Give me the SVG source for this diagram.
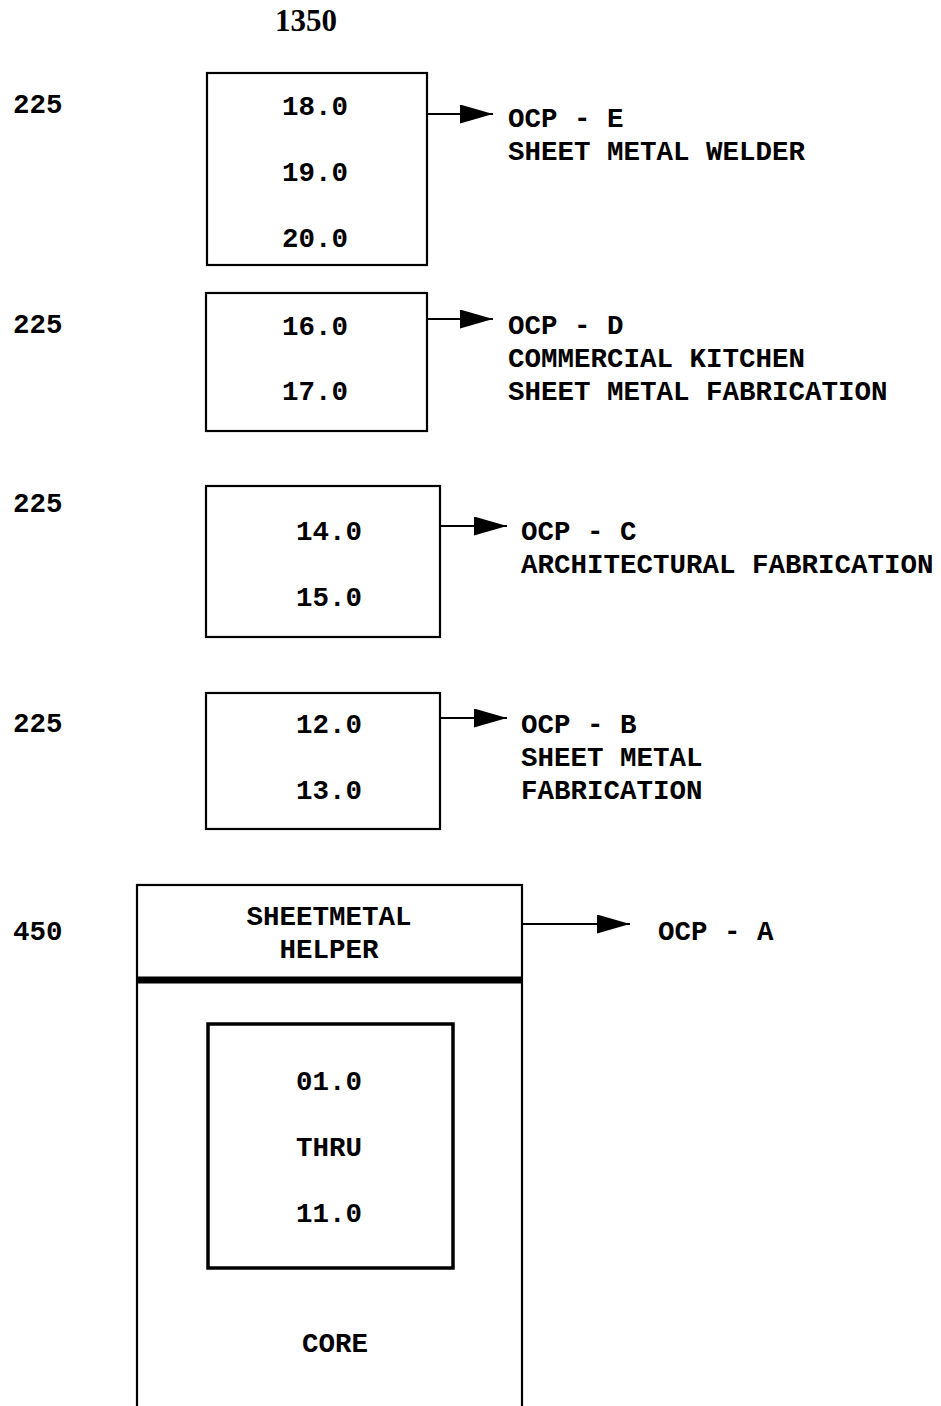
<svg xmlns="http://www.w3.org/2000/svg" width="941" height="1406" viewBox="0 0 941 1406">
<style>
.t{font-family:"Liberation Mono","Courier New",monospace;font-weight:bold;font-size:27.5px;fill:#000}
.c{text-anchor:middle}
.box{fill:none;stroke:#000;stroke-width:2.2}
.ln{stroke:#000;stroke-width:2.2;fill:none}
.ttl{font-family:"Liberation Serif","Times New Roman",serif;font-weight:bold;font-size:31px;fill:#000}
</style>
<defs>
<marker id="ah" markerUnits="userSpaceOnUse" markerWidth="34" markerHeight="20" refX="33" refY="9.5" orient="auto">
<path d="M0,0 L33,9.5 L0,19 Z" fill="#000"/>
</marker>
</defs>
<rect width="941" height="1406" fill="#fff"/>
<text class="ttl" x="306" y="31" text-anchor="middle">1350</text>
<g id="labels">
<text class="t" x="13" y="113">225</text>
<text class="t" x="13" y="333">225</text>
<text class="t" x="13" y="512">225</text>
<text class="t" x="13" y="732">225</text>
<text class="t" x="13" y="940">450</text>
</g>
<g id="nodeE">
<rect class="box" x="207" y="73" width="220" height="192"/>
<text class="t c" x="315" y="115">18.0</text>
<text class="t c" x="315" y="181">19.0</text>
<text class="t c" x="315" y="247">20.0</text>
</g>
<g id="labelE">
<text class="t" x="508" y="127">OCP - E</text>
<text class="t" x="508" y="160">SHEET METAL WELDER</text>
</g>
<g id="nodeD">
<rect class="box" x="206" y="293" width="221" height="138"/>
<text class="t c" x="315" y="335">16.0</text>
<text class="t c" x="315" y="400">17.0</text>
</g>
<g id="labelD">
<text class="t" x="508" y="334">OCP - D</text>
<text class="t" x="508" y="367">COMMERCIAL KITCHEN</text>
<text class="t" x="508" y="400">SHEET METAL FABRICATION</text>
</g>
<g id="nodeC">
<rect class="box" x="206" y="486" width="234" height="151"/>
<text class="t c" x="329" y="540">14.0</text>
<text class="t c" x="329" y="606">15.0</text>
</g>
<g id="labelC">
<text class="t" x="521" y="540">OCP - C</text>
<text class="t" x="521" y="573">ARCHITECTURAL FABRICATION</text>
</g>
<g id="nodeB">
<rect class="box" x="206" y="693" width="234" height="136"/>
<text class="t c" x="329" y="733">12.0</text>
<text class="t c" x="329" y="799">13.0</text>
</g>
<g id="labelB">
<text class="t" x="521" y="733">OCP - B</text>
<text class="t" x="521" y="766">SHEET METAL</text>
<text class="t" x="521" y="799">FABRICATION</text>
</g>
<g id="nodeA">
<rect class="box" x="137" y="885" width="385" height="560" stroke-width="2.5"/>
<line x1="137" y1="980" x2="522" y2="980" stroke="#000" stroke-width="7"/>
<text class="t c" x="329" y="925">SHEETMETAL</text>
<text class="t c" x="329" y="958">HELPER</text>
<rect x="208" y="1024" width="245" height="244" fill="none" stroke="#000" stroke-width="3.5"/>
<text class="t c" x="329" y="1090">01.0</text>
<text class="t c" x="329" y="1156">THRU</text>
<text class="t c" x="329" y="1222">11.0</text>
<text class="t c" x="335" y="1352">CORE</text>
</g>
<g id="labelA">
<text class="t" x="658" y="940">OCP - A</text>
</g>
<g id="connectors">
<line class="ln" x1="427" y1="114" x2="493" y2="114" marker-end="url(#ah)"/>
<line class="ln" x1="427" y1="319" x2="493" y2="319" marker-end="url(#ah)"/>
<line class="ln" x1="440" y1="526" x2="507" y2="526" marker-end="url(#ah)"/>
<line class="ln" x1="440" y1="718" x2="507" y2="718" marker-end="url(#ah)"/>
<line class="ln" x1="522" y1="924" x2="630" y2="924" marker-end="url(#ah)"/>
</g>
</svg>
